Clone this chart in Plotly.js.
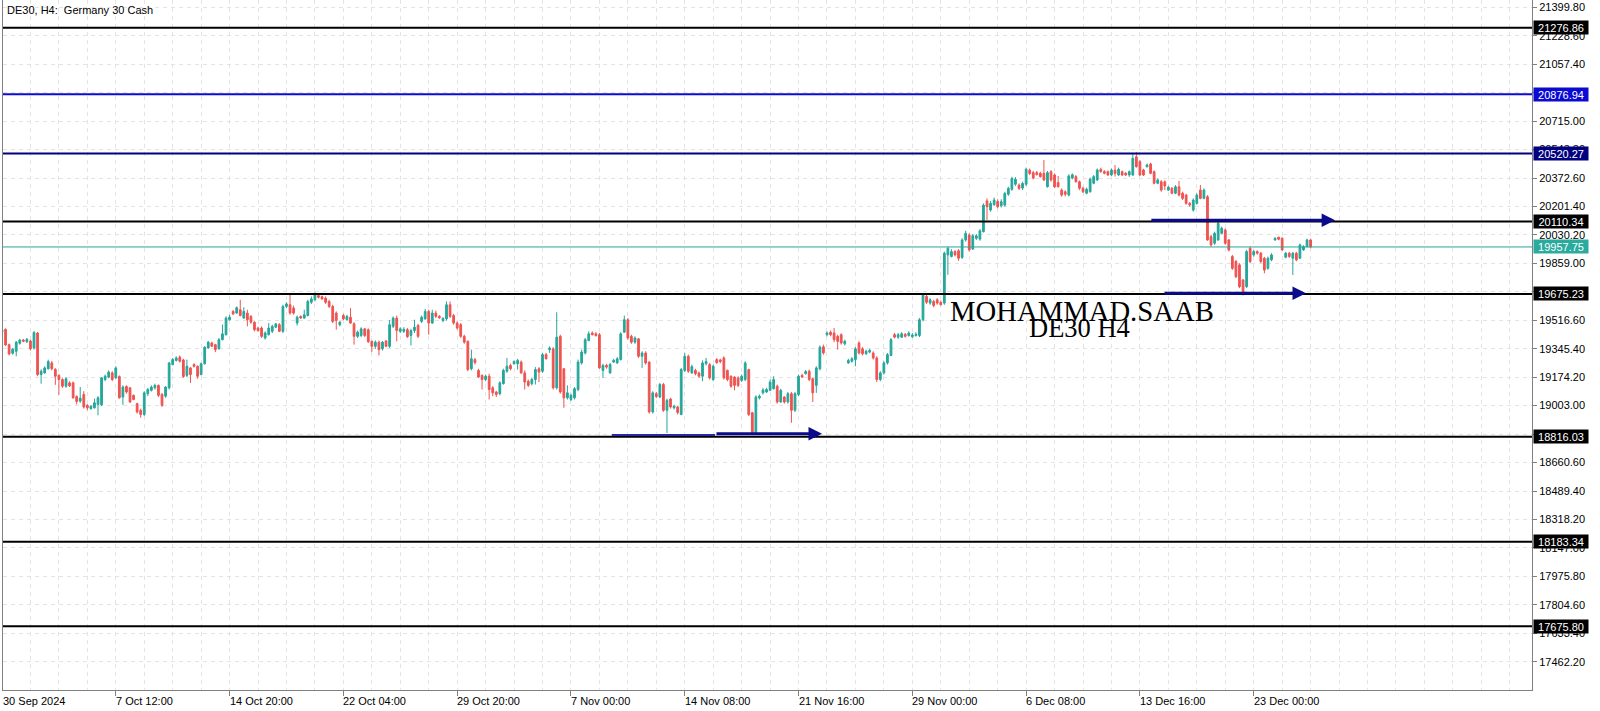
<!DOCTYPE html>
<html><head><meta charset="utf-8">
<script src="https://cdn.plot.ly/plotly-3.0.1.min.js"></script>
<style>html,body{margin:0;padding:0;background:#fff;}#chart{width:1600px;height:711px;}</style>
</head><body><div id="chart"></div>
<script>
// ---------- data ----------
const chartTitle = "DE30, H4:\u00a0 Germany 30 Cash";
const tickIndex = [0,32,64,96,128,160,192,224,256,288,320,352];
const tickLabels = ["30 Sep 2024","7 Oct 12:00","14 Oct 20:00","22 Oct 04:00","29 Oct 20:00","7 Nov 00:00","14 Nov 08:00","21 Nov 16:00","29 Nov 00:00","6 Dec 08:00","13 Dec 16:00","23 Dec 00:00"];

const openP = [
19446,19462,19370,19318,19330,19378,19398,19387,19392,19350,
19440,19190,19200,19225,19260,19222,19185,19160,19120,19140,
19140,19058,19030,19070,19005,18985,18990,19010,19008,19160,
19175,19200,19170,19178,19055,19118,19110,19065,19015,18975,
18950,19075,19095,19110,19125,19070,19060,19110,19250,19275,
19295,19278,19185,19230,19250,19240,19190,19255,19350,19380,
19370,19345,19400,
19430,19520,19570,19560,19580,19530,19560,19540,19505,19470,
19470,19410,19430,19450,19475,19490,19450,19600,19610,19590,
19500,19540,19530,19545,19625,19640,19665,19658,19650,19630,
19600,19560,19490,19545,19520,19535,19495,19420,19425,19465,
19460,19390,19360,19385,19345,19392,19360,19480,19530,19450,
19450,19460,19425,19455,19485,19510,19525,19570,19500,19560,
19540,19515,19525,19610,19545,19500,19490,19420,19390,19225,
19280,19215,19185,19160,19180,19110,19085,19075,19135,19210,
19245,19255,19255,19265,19200,19150,19135,19160,19225,19210,
19310,19340,19345,19110,19420,19225,19050,19040,19050,19100,
19260,19320,19395,19440,19435,19430,19215,19245,19200,19265,
19260,19280,19445,19520,19420,19385,19405,19300,19320,19265,
18965,
19075,19055,19130,18975,19043,18990,18995,18950,19215,19300,
19200,19215,19200,19180,19255,19250,19160,19280,19278,19290,
19215,19180,19175,19170,19155,19160,19220,18960,18840,19050,
19080,19085,19095,19105,19120,19025,19055,19025,19075,18975,
19070,19185,19195,19210,19165,19125,19225,19357,19430,19445,
19440,19420,19430,19375,19260,19270,19280,19380,19345,19315,
19325,19320,
19290,19160,19200,19260,19305,19430,19415,19415,19432,19425,
19418,19425,19425,19520,19660,19620,19630,19640,19625,19620,
19910,19900,19930,19935,19895,20000,20030,19945,20010,20005,
20050,20235,20180,20212,20232,20205,20210,20275,20305,20335,
20330,20312,20335,20420,20405,20405,20401,20401,20320,20411,
20391,20345,20300,20290,20270,20372,20381,20350,20311,20281,
20290,20341,20361,
20425,20411,20411,20391,20420,20391,20411,20401,20391,20391,
20500,20471,20421,20441,20457,20411,20341,20350,20350,20300,
20311,20281,20320,20281,20270,20220,20180,20220,20300,20250,
20260,20020,19980,20000,20040,20060,20000,19900,19870,19850,
19759,19719,19950,19910,19930,19920,19890,19829,19880,20000,
20016,20010,19896,19920,19890,19920,19890,19940,19960,20000
];
const highP = [
19464,19468,19376,19350,19392,19405,19404,19410,19400,19452,
19446,19222,19240,19280,19272,19228,19192,19168,19175,19150,
19148,19065,19115,19090,19012,19005,19045,19060,19175,19190,
19215,19210,19240,19185,19125,19125,19115,19070,19020,18985,
19090,19110,19125,19135,19130,19080,19120,19265,19290,19300,
19305,19285,19280,19235,19258,19245,19262,19360,19392,19388,
19375,19410,19490,
19540,19550,19578,19600,19640,19595,19580,19548,19510,19478,
19480,19450,19500,19490,19500,19500,19610,19625,19680,19605,
19545,19545,19580,19640,19660,19685,19670,19665,19660,19640,
19610,19570,19512,19555,19550,19590,19505,19455,19475,19470,
19468,19395,19395,19395,19392,19398,19518,19540,19545,19475,
19475,19470,19465,19520,19495,19545,19585,19580,19580,19575,
19548,19535,19630,19630,19555,19510,19500,19430,19395,19340,
19290,19225,19190,19190,19195,19120,19092,19150,19225,19290,
19255,19275,19285,19275,19215,19160,19170,19235,19235,19320,
19320,19360,19355,19565,19430,19230,19125,19075,19115,19280,
19340,19410,19450,19450,19445,19440,19255,19255,19260,19285,
19295,19445,19545,19530,19430,19420,19410,19330,19330,19270,
19090,
19085,19140,19140,19045,19050,19008,19000,19230,19320,19310,
19250,19225,19208,19275,19290,19260,19250,19288,19285,19300,
19220,19185,19180,19180,19190,19270,19225,18965,19065,19070,
19110,19110,19160,19180,19130,19105,19060,19085,19085,19085,
19190,19195,19218,19220,19170,19240,19365,19370,19450,19455,
19470,19430,19438,19400,19285,19295,19355,19390,19355,19340,
19345,19330,
19300,19210,19270,19320,19410,19440,19440,19445,19440,19450,
19440,19445,19530,19680,19670,19650,19640,19650,19635,19930,
19960,19945,19940,19945,20010,20055,20040,20035,20035,20065,
20220,20250,20235,20255,20245,20245,20290,20320,20380,20378,
20340,20350,20435,20430,20415,20415,20410,20481,20415,20420,
20400,20385,20310,20298,20395,20400,20390,20358,20320,20315,
20375,20390,20430,
20435,20420,20418,20430,20451,20435,20418,20408,20418,20521,
20528,20480,20428,20460,20465,20418,20370,20360,20358,20325,
20318,20330,20355,20290,20278,20228,20250,20280,20331,20310,
20270,20030,20050,20110,20080,20070,20005,19910,19880,19860,
19765,19940,19960,19940,19938,19928,19898,19900,19920,20016,
20020,20016,19928,19928,19928,19928,19978,19968,20008,20008
];
const lowP = [
19440,19362,19305,19310,19300,19370,19385,19380,19335,19340,
19180,19135,19195,19220,19215,19128,19068,19110,19110,19115,
19045,19010,19020,18985,18975,18978,18985,18945,19000,19150,
19168,19150,19165,19045,19008,19075,19020,19035,18955,18930,
18940,19060,19088,19100,19055,18995,19050,19100,19245,19268,
19262,19170,19175,19140,19232,19165,19185,19250,19345,19355,
19325,19340,19395,
19425,19515,19548,19555,19540,19525,19480,19495,19450,19448,
19410,19400,19425,19440,19470,19445,19440,19590,19550,19550,
19485,19525,19525,19540,19615,19630,19648,19640,19615,19590,
19500,19460,19480,19518,19515,19495,19370,19410,19415,19415,
19380,19325,19345,19305,19335,19355,19350,19470,19390,19440,
19440,19410,19365,19440,19410,19500,19520,19430,19495,19530,
19525,19505,19515,19530,19490,19460,19410,19375,19210,19215,
19250,19170,19100,19150,19040,19060,19055,19065,19130,19200,
19215,19250,19220,19195,19100,19115,19125,19130,19145,19200,
19280,19320,19100,19100,19075,18990,19040,19030,19040,19090,
19250,19310,19390,19425,19418,19225,19170,19225,19195,19260,
19255,19275,19440,19400,19375,19375,19290,19230,19250,18955,
18955,
19048,19048,18965,18838,18985,18980,18950,18945,19205,19200,
19195,19185,19170,19150,19245,19160,19150,19255,19258,19160,
19150,19110,19095,19115,19145,19150,18940,18830,18830,19040,
19070,19078,19090,19100,19015,19020,19015,19015,18900,18965,
19060,19170,19190,19150,19025,19080,19215,19310,19420,19420,
19385,19340,19370,19365,19255,19262,19240,19310,19305,19308,
19318,19280,
19145,19150,19190,19250,19300,19408,19405,19410,19412,19418,
19410,19418,19415,19510,19615,19610,19595,19610,19605,19610,
19790,19895,19900,19875,19885,19990,19930,19940,20000,19995,
20045,20120,20170,20205,20190,20195,20200,20265,20295,20325,
20300,20300,20325,20390,20365,20388,20375,20355,20315,20350,
20312,20315,20260,20262,20262,20365,20345,20300,20282,20275,
20285,20335,20355,
20405,20395,20385,20385,20381,20385,20385,20385,20380,20385,
20435,20385,20385,20435,20395,20335,20335,20290,20300,20295,
20275,20275,20262,20240,20212,20200,20170,20212,20245,20245,
19995,19960,19970,19995,20035,19970,19930,19820,19770,19710,
19665,19710,19860,19900,19912,19860,19799,19820,19872,19995,
19998,19935,19890,19892,19789,19872,19885,19935,19955,19950
];
const closeP = [
19458,19368,19314,19342,19385,19398,19390,19402,19345,19442,
19190,19210,19230,19268,19225,19180,19160,19120,19165,19122,
19050,19028,19048,18995,18990,19000,19020,19050,19170,19180,
19205,19160,19230,19050,19115,19085,19025,19040,18965,18950,
19080,19100,19115,19125,19065,19005,19115,19260,19280,19290,
19270,19178,19240,19190,19240,19180,19255,19355,19385,19360,
19340,19400,19435,
19530,19535,19555,19592,19545,19570,19520,19505,19460,19455,
19420,19440,19470,19480,19495,19450,19600,19615,19560,19560,
19535,19530,19550,19630,19645,19670,19655,19645,19625,19600,
19510,19515,19505,19525,19540,19500,19420,19445,19465,19425,
19388,19360,19385,19340,19385,19360,19490,19530,19455,19465,
19462,19418,19455,19475,19420,19535,19570,19500,19560,19540,
19532,19528,19610,19540,19500,19470,19420,19385,19220,19285,
19262,19175,19160,19180,19100,19080,19070,19140,19215,19240,
19225,19268,19275,19200,19145,19125,19160,19220,19205,19310,
19285,19350,19110,19415,19085,19050,19080,19065,19105,19265,
19325,19400,19435,19430,19425,19230,19245,19235,19250,19275,
19285,19435,19520,19410,19385,19410,19300,19320,19260,18965,
19080,
19058,19130,18975,19035,18995,19000,18962,19220,19300,19210,
19238,19195,19180,19260,19268,19170,19240,19262,19268,19170,
19160,19120,19125,19125,19180,19260,18950,18840,19055,19060,
19097,19100,19145,19160,19025,19095,19025,19075,18975,19075,
19180,19175,19208,19160,19080,19230,19355,19320,19440,19430,
19400,19390,19380,19390,19275,19285,19345,19320,19315,19330,
19335,19290,
19160,19200,19260,19310,19400,19415,19430,19435,19420,19440,
19428,19432,19520,19668,19625,19640,19605,19620,19610,19920,
19950,19930,19910,19890,20000,20040,19940,20025,20025,20055,
20210,20200,20220,20240,20200,20230,20280,20310,20370,20365,
20310,20340,20425,20400,20372,20393,20381,20361,20405,20361,
20320,20320,20270,20275,20385,20392,20350,20311,20290,20305,
20366,20381,20421,
20411,20401,20391,20421,20400,20425,20391,20391,20411,20491,
20441,20391,20391,20451,20401,20341,20361,20300,20325,20317,
20281,20320,20270,20250,20220,20210,20240,20270,20250,20300,
20000,19970,20040,20100,20070,19980,19940,19829,19779,19719,
19689,19930,19870,19930,19920,19870,19819,19890,19910,20010,
20004,19940,19920,19900,19920,19880,19970,19960,20000,19958
];

const levelPrices = [21276.86, 20876.94, 20520.27, 20110.34, 19675.23, 18816.03, 18183.34, 17675.80];
const currentPrice = 19957.75;
const watermarkLines = ["MOHAMMAD.SAAB", "DE30 H4"];

// ---------- styles ----------
const levelColors = ['#000000','#0a0ad2','#000080','#000000','#000000','#000000','#000000','#000000'];
const upColor = '#26a69a', downColor = '#ef5350';
const navy = '#0b0b8c';
const FONT = 'Liberation Sans, Arial, sans-serif';
const SERIF = 'Liberation Serif, Times New Roman, serif';
const gridCol = '#e4e4e4';

const xIdx = openP.map((_, i) => i);

const trace = {
  type: 'candlestick', x: xIdx, open: openP, high: highP, low: lowP, close: closeP,
  increasing: {line: {color: upColor, width: 1}, fillcolor: upColor},
  decreasing: {line: {color: downColor, width: 1}, fillcolor: downColor},
  whiskerwidth: 0, hoverinfo: 'skip', showlegend: false
};

const shapes = [];
const annotations = [];

levelPrices.forEach((p, k) => {
  shapes.push({type: 'line', xref: 'paper', x0: 0, x1: 1, yref: 'y', y0: p, y1: p,
    line: {color: levelColors[k], width: 2}, layer: 'above'});
  annotations.push({xref: 'paper', x: 1, xanchor: 'left', xshift: 1, yref: 'y', y: p, yanchor: 'middle',
    text: p.toFixed(2), showarrow: false, bgcolor: levelColors[k], borderpad: 1, width: 52, height: 11,
    font: {family: FONT, size: 11, color: '#ffffff'}});
});
shapes.push({type: 'line', xref: 'paper', x0: 0, x1: 1, yref: 'y', y0: currentPrice, y1: currentPrice,
  line: {color: upColor, width: 1}, layer: 'above'});
annotations.push({xref: 'paper', x: 1, xanchor: 'left', xshift: 1, yref: 'y', y: currentPrice, yanchor: 'middle',
  text: currentPrice.toFixed(2), showarrow: false, bgcolor: '#2bab9e', borderpad: 1, width: 52, height: 11,
  font: {family: FONT, size: 11, color: '#ffffff'}});

// trend arrows (drawn objects)
shapes.push({type: 'line', xref: 'x', yref: 'y', x0: 171.5, x1: 200.5, y0: 18826, y1: 18826,
  line: {color: '#2a2aa8', width: 2}, layer: 'above'});
const arrowDefs = [
  {x0: 200.5, x1: 230.6, y: 18834},
  {x0: 322.8, x1: 374.9, y: 20118},
  {x0: 326.5, x1: 366.7, y: 19679}
];
arrowDefs.forEach(a => {
  annotations.push({xref: 'x', yref: 'y', axref: 'x', ayref: 'y', x: a.x1, y: a.y, ax: a.x0, ay: a.y,
    showarrow: true, arrowhead: 2, arrowsize: 0.9, arrowwidth: 3, arrowcolor: navy, text: '', standoff: 0});
});

// watermark text
annotations.push({xref: 'x', yref: 'y', x: 266, y: 19574, xanchor: 'left', yanchor: 'middle',
  text: watermarkLines[0], showarrow: false, font: {family: SERIF, size: 28.7, color: '#000'}});
annotations.push({xref: 'x', yref: 'y', x: 288.2, y: 19470, xanchor: 'left', yanchor: 'middle',
  text: watermarkLines[1], showarrow: false, font: {family: SERIF, size: 26.5, color: '#000'}});

// title
annotations.push({xref: 'paper', yref: 'paper', x: 0, y: 1, xanchor: 'left', yanchor: 'top', xshift: 2, yshift: -2,
  text: chartTitle, showarrow: false, font: {family: FONT, size: 11, color: '#000'}});

// x tick labels (left-aligned at tick); first one pinned to the left edge
tickIndex.forEach((t, k) => {
  const ann = {yref: 'paper', y: 0, xanchor: 'left', yanchor: 'top', yshift: -3,
    text: tickLabels[k], showarrow: false, font: {family: FONT, size: 11, color: '#000'}};
  if (k === 0) { ann.xref = 'paper'; ann.x = 0; ann.xshift = -2; }
  else { ann.xref = 'x'; ann.x = t; ann.xshift = -2; }
  annotations.push(ann);
});

const layout = {
  width: 1600, height: 711,
  margin: {l: 3, r: 68, t: 0, b: 21},
  paper_bgcolor: '#ffffff', plot_bgcolor: '#ffffff',
  showlegend: false,
  xaxis: {
    range: [0.281, 430.26], tickmode: 'array', tickvals: tickIndex, showticklabels: false,
    ticks: 'outside', ticklen: 5, tickcolor: '#808080',
    showgrid: true, gridcolor: gridCol, griddash: '4px,4px', gridwidth: 1,
    minor: {tickmode: 'linear', tick0: 0, dtick: 8, showgrid: true, gridcolor: gridCol, griddash: '4px,4px', ticks: ''},
    showline: true, linecolor: '#808080', linewidth: 1, mirror: false, zeroline: false,
    rangeslider: {visible: false}, fixedrange: true
  },
  yaxis: {
    side: 'right', range: [17292, 21443.7], tickmode: 'linear', tick0: 17462.2, dtick: 171.2,
    tickformat: '.2f', ticks: 'outside', ticklen: 4, tickcolor: '#808080',
    tickfont: {family: FONT, size: 11, color: '#000'},
    showgrid: true, gridcolor: gridCol, griddash: '4px,4px', gridwidth: 1,
    showline: true, linecolor: '#808080', linewidth: 1, mirror: true, zeroline: false, fixedrange: true
  },
  shapes: shapes,
  annotations: annotations
};

Plotly.newPlot('chart', [trace], layout, {displayModeBar: false, staticPlot: true});
</script>
</body></html>
